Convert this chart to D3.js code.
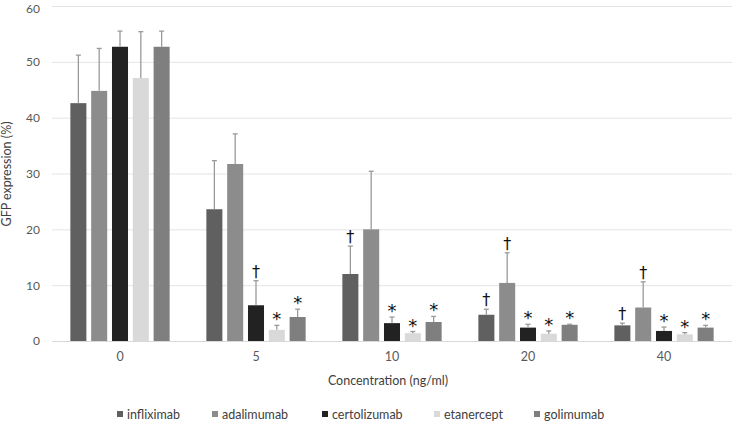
<!DOCTYPE html>
<html><head><meta charset="utf-8">
<script src="https://cdn.jsdelivr.net/npm/d3@7/dist/d3.min.js"></script>
<style>body{margin:0;background:#fff;} svg{display:block;font-family:Lato, "Open Sans", sans-serif;}</style>
</head><body><svg id="c" width="733" height="423"></svg>
<script>
const categories = ["0","5","10","20","40"];
const seriesNames = ["infliximab","adalimumab","certolizumab","etanercept","golimumab"];
const colors = ["#606060","#8c8c8c","#222222","#d9d9d9","#7f7f7f"];
const infliximab   = [42.6, 23.6, 12.0, 4.7, 2.8];
const adalimumab   = [44.8, 31.7, 20.0, 10.4, 6.0];
const certolizumab = [52.7, 6.4, 3.2, 2.4, 1.8];
const etanercept   = [47.1, 2.0, 1.4, 1.3, 1.2];
const golimumab    = [52.7, 4.3, 3.4, 2.9, 2.4];
const errInfliximab   = [8.6, 8.7, 5.0, 1.0, 0.4];
const errAdalimumab   = [7.6, 5.4, 10.4, 5.4, 4.6];
const errCertolizumab = [2.8, 4.4, 1.1, 0.6, 0.7];
const errEtanercept   = [8.3, 0.8, 0.3, 0.5, 0.3];
const errGolimumab    = [2.8, 1.4, 1.0, 0.1, 0.4];
const marks = [
  ["","","","",""],
  ["","","†","*","*"],
  ["†","","*","*","*"],
  ["†","†","*","*","*"],
  ["†","†","*","*","*"]
];
const yTicks = [0,10,20,30,40,50,60];

const values = [infliximab, adalimumab, certolizumab, etanercept, golimumab];
const errs = [errInfliximab, errAdalimumab, errCertolizumab, errEtanercept, errGolimumab];

const svg = d3.select("#c");
const x = d3.scaleBand().domain(categories).range([52,732]).paddingInner(0.27).paddingOuter(0.135);
const xs = d3.scaleBand().domain(seriesNames).range([0,x.bandwidth()]).paddingInner(0.23).paddingOuter(0);
const y = d3.scaleLinear().domain([0,60]).range([341,6]);

// gridlines
svg.append("g").selectAll("line").data(yTicks).join("line")
  .attr("x1",52).attr("x2",732).attr("y1",d=>y(d)+0.5).attr("y2",d=>y(d)+0.5)
  .attr("stroke",d=>d===0?"#d9d9d9":"#e4e4e4").attr("stroke-width",1);

// y axis labels
const yAxis = d3.axisLeft(y).tickValues(yTicks).tickSize(0).tickPadding(0);
const ga = svg.append("g").attr("transform","translate(40,0)").call(yAxis);
ga.select(".domain").remove();
ga.selectAll("text").attr("font-size",12).attr("fill","#595959").attr("font-family","Lato, sans-serif")
  .attr("dy",d=>d===60?"0.55em":"0.32em");

// x axis labels
const xAxis = d3.axisBottom(x).tickSize(0).tickPadding(0);
const gx = svg.append("g").attr("transform","translate(0,352)").call(xAxis);
gx.select(".domain").remove();
gx.selectAll("text").attr("font-size",12.5).attr("fill","#595959").attr("font-family","Lato, sans-serif");

// bars
const data = [];
categories.forEach((c,ci)=>seriesNames.forEach((s,si)=>data.push({c,s,si,v:values[si][ci],e:errs[si][ci],m:marks[ci][si]})));
const g = svg.append("g");
g.selectAll("rect").data(data).join("rect")
  .attr("x",d=>x(d.c)+xs(d.s)).attr("width",xs.bandwidth())
  .attr("y",d=>y(d.v)).attr("height",d=>y(0)-y(d.v))
  .attr("fill",d=>colors[d.si]);

// error bars
const eb = svg.append("g").attr("stroke","#9a9a9a").attr("stroke-width",1.3);
eb.selectAll("line.v").data(data).join("line").attr("class","v")
  .attr("x1",d=>x(d.c)+xs(d.s)+xs.bandwidth()/2).attr("x2",d=>x(d.c)+xs(d.s)+xs.bandwidth()/2)
  .attr("y1",d=>y(d.v)).attr("y2",d=>y(d.v+d.e));
eb.selectAll("line.h").data(data).join("line").attr("class","h")
  .attr("x1",d=>x(d.c)+xs(d.s)+xs.bandwidth()/2-2.5).attr("x2",d=>x(d.c)+xs(d.s)+xs.bandwidth()/2+2.5)
  .attr("y1",d=>y(d.v+d.e)).attr("y2",d=>y(d.v+d.e));

// significance marks
svg.append("g").selectAll("text").data(data.filter(d=>d.m)).join("text")
  .attr("x",d=>x(d.c)+xs(d.s)+xs.bandwidth()/2)
  .attr("y",d=>y(d.v+d.e)-(d.m==="†"?4:0))
  .attr("text-anchor","middle").attr("font-size",d=>d.m==="†"?16:18)
  .attr("font-family","DejaVu Sans, sans-serif")
  .attr("fill","#111").text(d=>d.m);

// axis titles
svg.append("text").attr("x",388).attr("y",385).attr("text-anchor","middle")
  .attr("font-size",12.5).attr("fill","#404040").text("Concentration (ng/ml)");
svg.append("text").attr("transform","translate(11,174) rotate(-90)").attr("text-anchor","middle")
  .attr("font-size",12.5).attr("fill","#404040").text("GFP expression (%)");

// legend
const legX = [117,212,322,434,534];
const lg = svg.append("g");
seriesNames.forEach((s,i)=>{
  lg.append("rect").attr("x",legX[i]).attr("y",411).attr("width",6).attr("height",6).attr("fill",colors[i]);
  lg.append("text").attr("x",legX[i]+10).attr("y",419).attr("font-size",12.5).attr("fill","#404040").text(s);
});
</script></body></html>
